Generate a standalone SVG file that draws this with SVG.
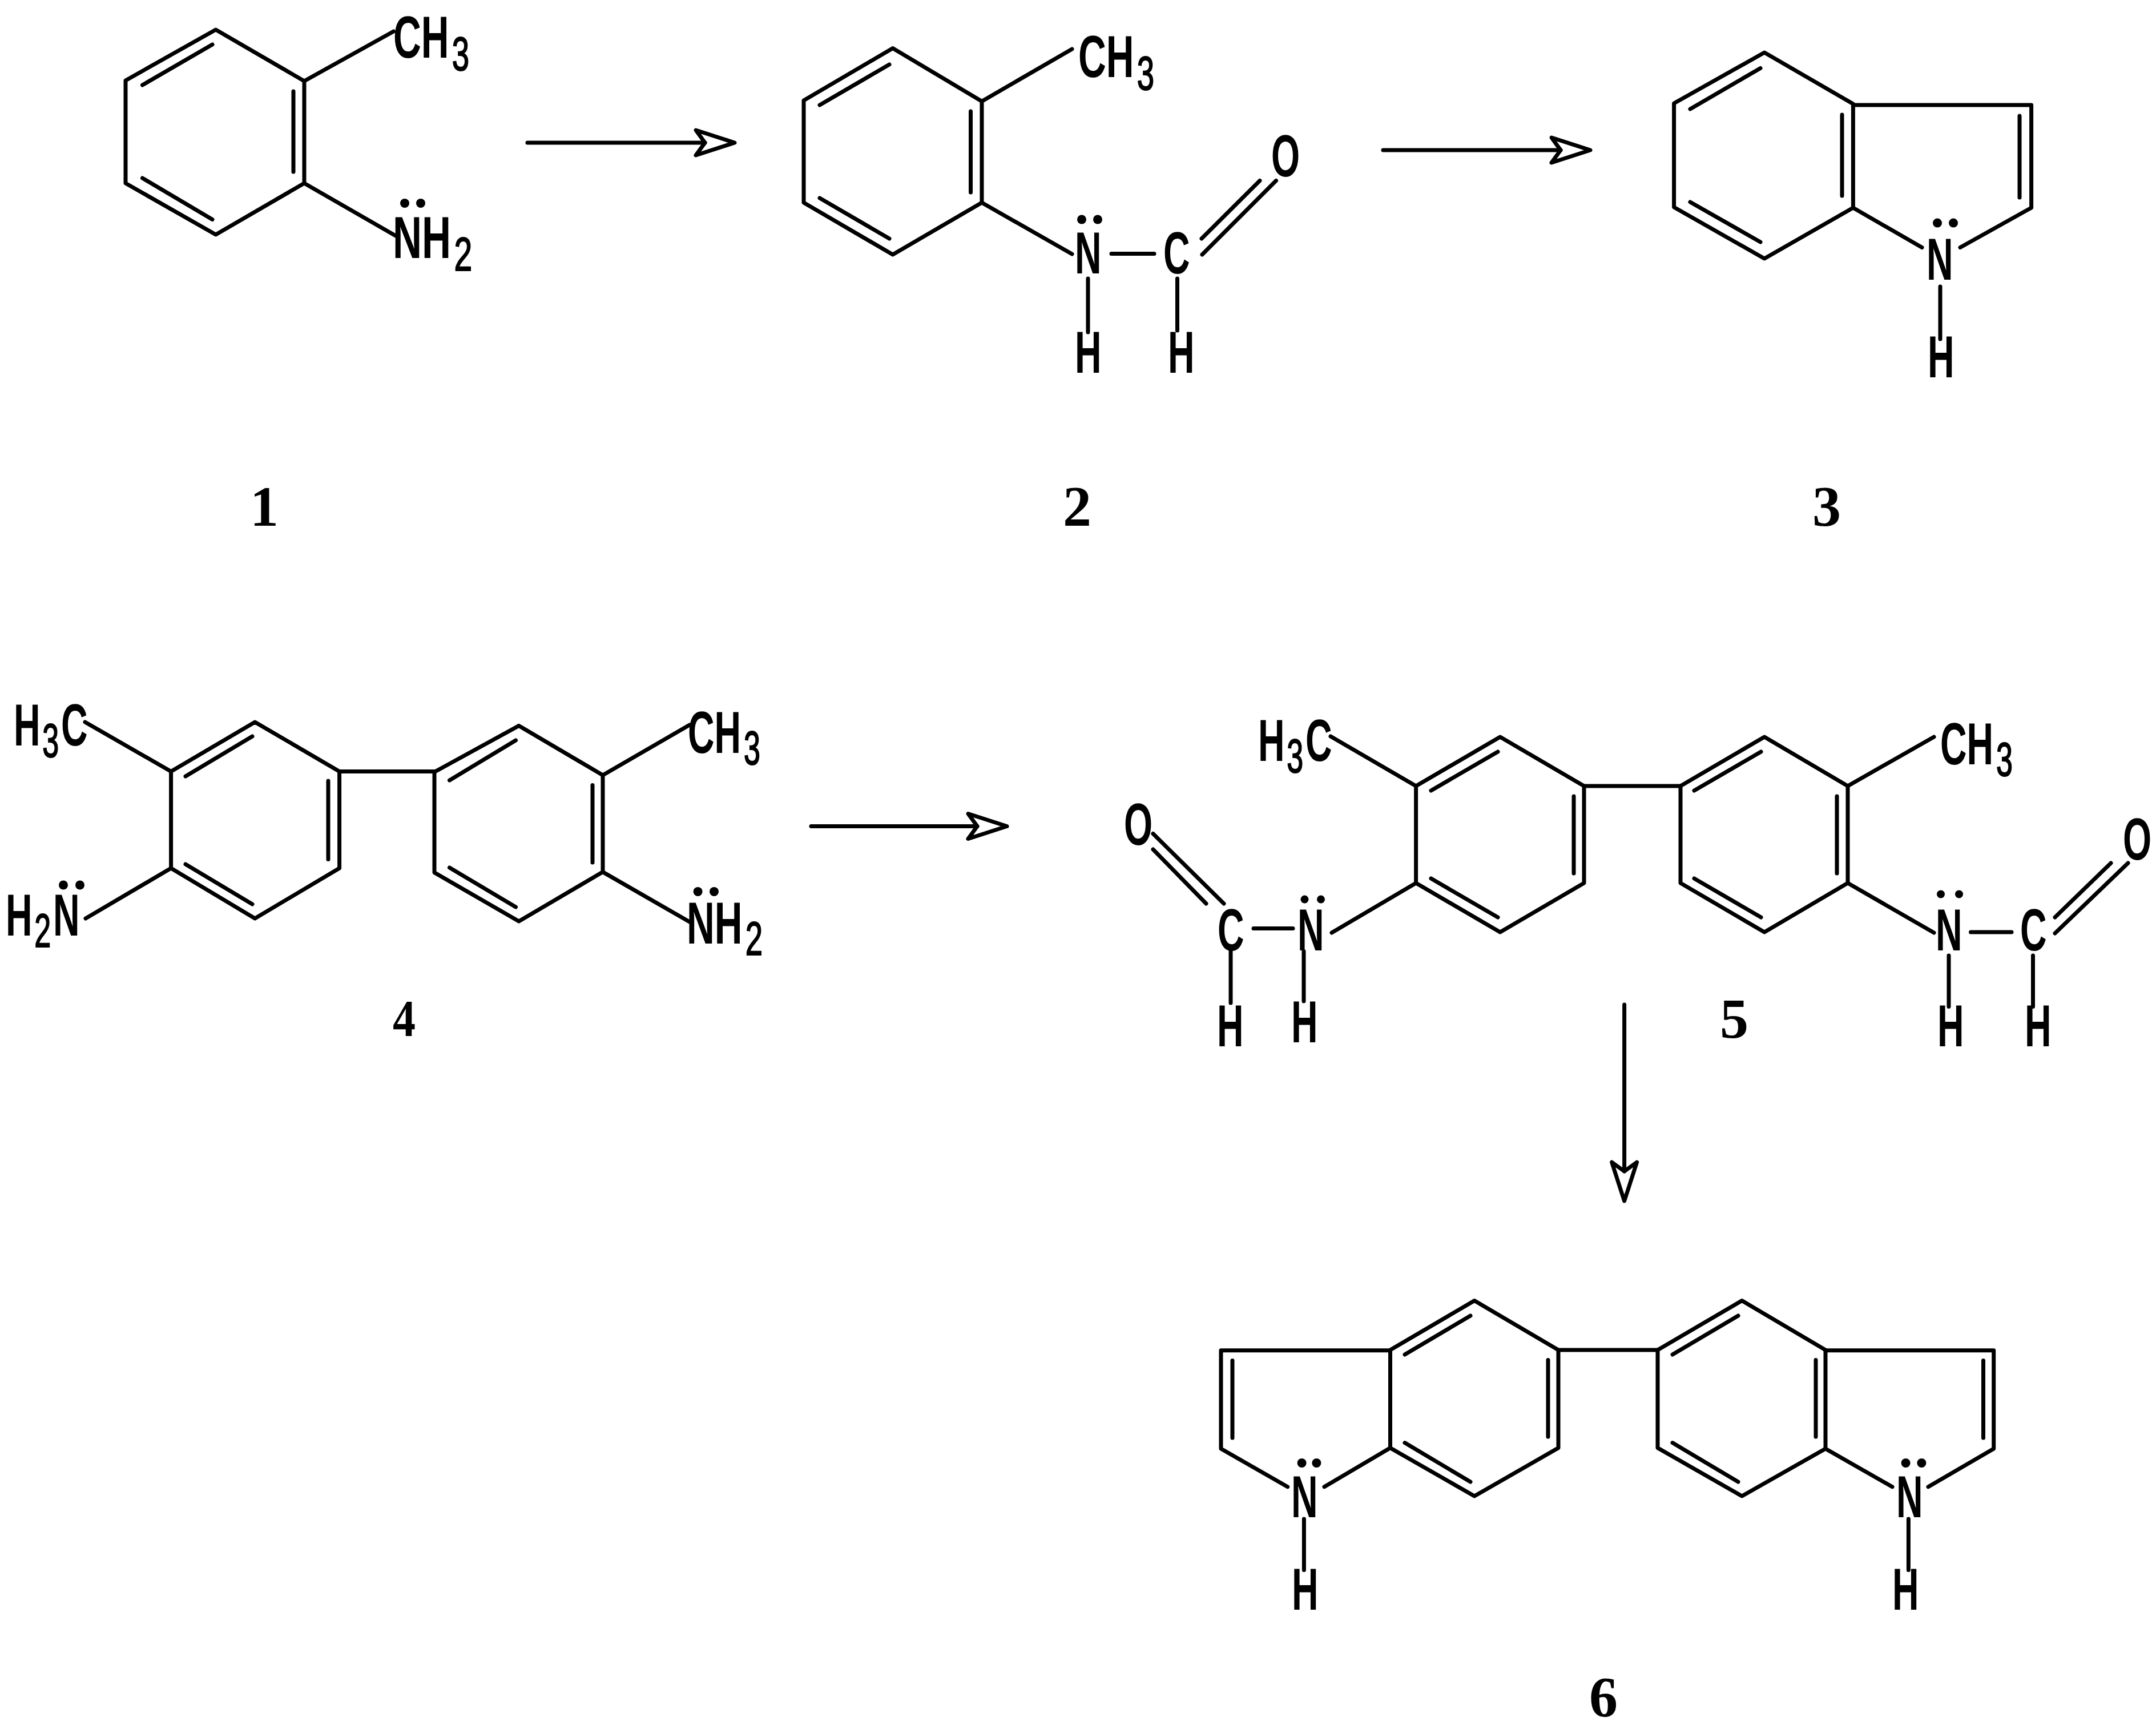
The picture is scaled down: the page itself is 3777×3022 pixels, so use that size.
<svg xmlns="http://www.w3.org/2000/svg" width="3777" height="3022" viewBox="0 0 3777 3022">
<style>
.b{fill:none;stroke:#000;stroke-width:7;stroke-linecap:round;stroke-linejoin:round}
.t{font-family:"Liberation Sans",Arial,sans-serif;font-weight:bold;font-size:104px;fill:#000}
.s{font-size:84px;font-weight:normal;stroke:#000;stroke-width:2}
.n{font-family:"Liberation Serif","Times New Roman",serif;font-weight:bold;font-size:100px;fill:#000;text-anchor:middle}
.d{fill:#000}
</style>
<defs>
<marker id="ah" markerUnits="userSpaceOnUse" markerWidth="90" markerHeight="60" refX="20" refY="30" orient="auto" overflow="visible"><path class="b" d="M4 8L20 30L4 52L72 30Z"/></marker>
</defs>
<rect width="3777" height="3022" fill="#fff"/>
<g id="connectors">
<path class="b" marker-end="url(#ah)" d="M924 250H1235"/>
<path class="b" marker-end="url(#ah)" d="M2423 263H2734"/>
<path class="b" marker-end="url(#ah)" d="M1421 1447.5H1712"/>
<path class="b" marker-end="url(#ah)" d="M2845.6 1760V2052"/>
</g>
<g id="molecule-1">
<path class="b" d="M378 52L533 142V321L378 411L220 321V141Z"/>
<path class="b" d="M249.5 149L372 78M514 160V301M249.5 312L372 384.5M533 142L689.5 55M533 321L693 413"/>
<circle class="d" cx="709" cy="356" r="8"/><circle class="d" cx="737" cy="356" r="8"/>
<text class="t" transform="translate(689 101) scale(.65 1)">CH<tspan class="s" dx="8" dy="22">3</tspan></text>
<text class="t" transform="translate(688 452) scale(.68 1)">NH<tspan class="s" dx="8" dy="22">2</tspan></text>
<text class="n" x="463" y="921">1</text>
</g>
<g id="molecule-2">
<path class="b" d="M1564 84.5L1720 177.5V355L1564 446L1408 355V176Z"/>
<path class="b" d="M1436 184L1558 113M1700.5 195V337M1436 347L1558 418M1720 177.5L1878 86M1720 355L1878 445M1947 444.5H2022M2105 418L2207 316.5M2106 446L2235.5 316.5M1906 488V582M2062.5 488V579"/>
<circle class="d" cx="1895" cy="384.5" r="8"/><circle class="d" cx="1923" cy="384.5" r="8"/>
<text class="t" transform="translate(1889 135) scale(.65 1)">CH<tspan class="s" dx="8" dy="22">3</tspan></text>
<text class="t" transform="translate(1883 479) scale(.62 1)">N</text>
<text class="t" transform="translate(2038 479) scale(.62 1)">C</text>
<text class="t" transform="translate(2227 309) scale(.62 1)">O</text>
<text class="t" transform="translate(1883 653) scale(.62 1)">H</text>
<text class="t" transform="translate(2046 653) scale(.62 1)">H</text>
<text class="n" x="1887" y="920">2</text>
</g>
<g id="molecule-3">
<path class="b" d="M3091 92L3246.4 182V364L3091 453L2932.6 363V181Z"/>
<path class="b" d="M2961 191L3084 119.4M3227 201V343M2961 354L3084 424M3246.4 184H3558.6V364L3434 433.5M3246.4 364L3367 433.5M3538 203V346M3399 502V594"/>
<circle class="d" cx="3394" cy="390.6" r="8"/><circle class="d" cx="3422" cy="390.6" r="8"/>
<text class="t" transform="translate(3375 490) scale(.62 1)">N</text>
<text class="t" transform="translate(3377 661) scale(.62 1)">H</text>
<text class="n" x="3200" y="920">3</text>
</g>
<g id="molecule-4">
<path class="b" d="M446.6 1265L594.6 1351.5V1521L446.6 1609L299.6 1521V1351.5Z"/>
<path class="b" d="M325 1360L442 1290M575 1368V1505.6M325 1514L442 1584M594.6 1351.5H761"/>
<path class="b" d="M909 1271.4L1056 1358V1527.6L909 1614L761 1528.6V1352.5Z"/>
<path class="b" d="M787.5 1367L903.5 1297M1038 1375.5V1511M787.5 1520L903.5 1589M299.6 1351.5L149 1265M299.6 1521L150 1609M1056 1358L1208 1270M1056 1527.6L1208 1615"/>
<circle class="d" cx="111" cy="1550.5" r="8"/><circle class="d" cx="140" cy="1550.5" r="8"/>
<circle class="d" cx="1222.6" cy="1562" r="8"/><circle class="d" cx="1251" cy="1562" r="8"/>
<text class="t" transform="translate(24 1306) scale(.62 1)">H<tspan class="s" dx="6" dy="20">3</tspan><tspan dx="6" dy="-20">C</tspan></text>
<text class="t" transform="translate(10 1639) scale(.62 1)">H<tspan class="s" dx="6" dy="20">2</tspan><tspan dx="6" dy="-20">N</tspan></text>
<text class="t" transform="translate(1205 1319) scale(.62 1)">CH<tspan class="s" dx="8" dy="20">3</tspan></text>
<text class="t" transform="translate(1203 1652.5) scale(.65 1)">NH<tspan class="s" dx="8" dy="20">2</tspan></text>
<text class="n" transform="translate(708 1815) scale(.8 .9)">4</text>
</g>
<g id="molecule-5">
<path class="b" d="M2628 1291L2775 1377V1547L2628 1633L2480.6 1547V1377Z"/>
<path class="b" d="M2507 1385L2624 1317M2757 1395V1530M2507 1539L2624 1607M2775 1377H2944"/>
<path class="b" d="M3091 1291L3237 1377V1547L3091 1633L2944 1547V1377Z"/>
<path class="b" d="M2968 1385L3085 1317M3218 1395V1530M2968 1539L3085 1607M2480.6 1377L2331 1290M3237 1377L3388 1291M2480.6 1547L2333 1634M2196 1626.5H2265M2113 1583L2020 1488M2144 1583L2020 1460.5M2156 1666.5V1757M2284 1666.5V1754M3237 1547L3388 1634M3452.5 1633H3524M3600 1607L3698 1512M3600 1635L3728 1512M3414 1674V1763.5M3561.5 1674V1763.5"/>
<circle class="d" cx="2285.5" cy="1575.6" r="7"/><circle class="d" cx="2314" cy="1575.6" r="7"/>
<circle class="d" cx="3400" cy="1566.5" r="7"/><circle class="d" cx="3432" cy="1566.5" r="7"/>
<text class="t" transform="translate(2204 1333) scale(.62 1)">H<tspan class="s" dx="6" dy="20">3</tspan><tspan dx="6" dy="-20">C</tspan></text>
<text class="t" transform="translate(3399 1339) scale(.62 1)">CH<tspan class="s" dx="8" dy="20">3</tspan></text>
<text class="t" transform="translate(2273 1665) scale(.62 1)">N</text>
<text class="t" transform="translate(2133 1665) scale(.62 1)">C</text>
<text class="t" transform="translate(1969 1480) scale(.62 1)">O</text>
<text class="t" transform="translate(2132 1833) scale(.62 1)">H</text>
<text class="t" transform="translate(2262 1826) scale(.62 1)">H</text>
<text class="t" transform="translate(3391 1665) scale(.62 1)">N</text>
<text class="t" transform="translate(3539 1665) scale(.62 1)">C</text>
<text class="t" transform="translate(3719 1506) scale(.62 1)">O</text>
<text class="t" transform="translate(3394 1833) scale(.62 1)">H</text>
<text class="t" transform="translate(3547 1833) scale(.62 1)">H</text>
<text class="n" x="3038" y="1818">5</text>
</g>
<g id="molecule-6">
<path class="b" d="M2583 2278.6L2730 2365V2536.6L2583 2621L2435.5 2536.6V2365Z"/>
<path class="b" d="M2461 2373L2576 2305M2712 2382.4V2517M2461 2527.6L2576 2596M2435.5 2365.7H2139V2538L2255.7 2604.7M2435.5 2536.6L2320 2604.7M2159 2383.5V2519M2284.4 2661V2750.5M2730 2365H2904"/>
<path class="b" d="M3051.6 2278.6L3198 2365V2538L3051.6 2621L2904 2536.6V2365Z"/>
<path class="b" d="M2930 2373L3045 2305M3181 2382.4V2517M2930 2527.6L3045 2596M3198 2365.7H3492.7V2538L3378 2604.7M3198 2538L3315 2604.7M3474.5 2383.5V2519M3343.4 2661V2750.5"/>
<circle class="d" cx="2280.6" cy="2563" r="8"/><circle class="d" cx="2306.4" cy="2563" r="8"/>
<circle class="d" cx="3338.6" cy="2563" r="8"/><circle class="d" cx="3366.4" cy="2563" r="8"/>
<text class="t" transform="translate(2262 2657.7) scale(.62 1)">N</text>
<text class="t" transform="translate(2263 2820) scale(.62 1)">H</text>
<text class="t" transform="translate(3322 2657.7) scale(.62 1)">N</text>
<text class="t" transform="translate(3315 2820) scale(.62 1)">H</text>
<text class="n" x="2809" y="3006">6</text>
</g>
</svg>
